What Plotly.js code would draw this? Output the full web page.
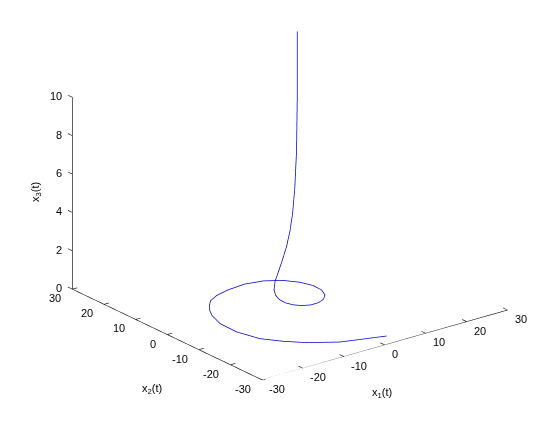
<!DOCTYPE html>
<html>
<head>
<meta charset="utf-8">
<script src="https://cdn.plot.ly/plotly-3.0.1.min.js"></script>
<style>
  html, body { margin: 0; padding: 0; background: #ffffff; }
  #chart { width: 560px; height: 421px; }
</style>
</head>
<body>
<div id="chart"></div>
<script>
// ---- data (trajectory x1(t), x2(t), x3(t)) ----
const X1 = [1.12, 1.39, 1.61, 1.65, 1.51, 1.24, 0.75, -0.16, -2.07, -3.04, -3.53, -3.62, -3.22,
            -2.29, -0.87, 0.95, 2.98, 4.98, 6.66, 7.74, 7.93, 7.06, 5.03, 1.91, -2.08, -6.53,
            -9.87, -12.48, -14.2, -15.81, -17.0, -18.4, -18.5, -17.1, -14.4, -11.2, -5.92, -0.78, 3.14];
const X2 = [-0.86, -0.50, 0.00, 0.64, 1.14, 1.60, 2.05, 2.43, 2.04, 1.11, 0.00, -1.32, -2.70,
            -3.97, -4.92, -5.38, -5.16, -4.18, -2.43, 0.00, 2.89, 5.92, 8.70, 10.80, 11.79, 11.31,
            10.36, 8.94, 7.10, 4.91, 2.68, -1.77, -7.16, -12.68, -16.5, -19.8, -23.5, -25.2, -26.5];
const X3 = [13.98, 10.51, 7.67, 5.60, 4.29, 3.38, 2.56, 1.76, 0.91, 0.62, 0.45, 0.33, 0.24,
            0.18, 0.13, 0.09, 0.07, 0.05, 0.04, 0.03, 0.02, 0.01, 0.01, 0.01, 0.00, 0.00,
            0, 0, 0, 0, 0, 0, 0, 0, 0, 0, 0, 0, 0];

// ---- axes ----
const X_TICKS = [-30, -20, -10, 0, 10, 20, 30];
const Y_TICKS = [-30, -20, -10, 0, 10, 20, 30];
const Z_TICKS = [0, 2, 4, 6, 8, 10];
const X_TITLE = 'x<sub>1</sub>(t)';
const Y_TITLE = 'x<sub>2</sub>(t)';
const Z_TITLE = 'x<sub>3</sub>(t)';

const xMin = X_TICKS[0], xMax = X_TICKS[X_TICKS.length - 1];
const yMin = Y_TICKS[0], yMax = Y_TICKS[Y_TICKS.length - 1];
const zMin = Z_TICKS[0], zMax = Z_TICKS[Z_TICKS.length - 1];

const frame = {
  type: 'scatter3d', mode: 'lines', hoverinfo: 'skip', showlegend: false,
  x: [xMin, xMin, xMin, xMax],
  y: [yMax, yMax, yMin, yMin],
  z: [zMax, zMin, zMin, zMin],
  line: { color: '#000000', width: 1.2 }
};

const TL_X = 1.4, TL_Y = 1.2, TL_Z = 1.4;
const tx = [], ty = [], tz = [];
X_TICKS.forEach(v => { tx.push(v, v, null); ty.push(yMin, yMin + TL_X, null); tz.push(zMin, zMin, null); });
Y_TICKS.forEach(v => { tx.push(xMin, xMin + TL_Y, null); ty.push(v, v, null); tz.push(zMin, zMin, null); });
Z_TICKS.forEach(v => { tx.push(xMin, xMin, null); ty.push(yMax, yMax + TL_Z, null); tz.push(v, v, null); });
const ticks = {
  type: 'scatter3d', mode: 'lines', hoverinfo: 'skip', showlegend: false,
  x: tx, y: ty, z: tz, connectgaps: false,
  line: { color: '#000000', width: 1.2 }
};

const curve = {
  type: 'scatter3d', mode: 'lines', hoverinfo: 'skip', showlegend: false,
  x: X1, y: X2, z: X3,
  line: { color: '#0000cc', width: 1.5 }
};

const tickFont = { family: 'Liberation Sans, Arial, sans-serif', size: 11, color: '#000000' };
const ann = [];
X_TICKS.forEach(v => ann.push({ x: v, y: yMin, z: zMin, text: String(v), showarrow: false,
  xanchor: 'left', yanchor: 'middle', xshift: 5, yshift: -9, font: tickFont }));
Y_TICKS.forEach(v => ann.push({ x: xMin, y: v, z: zMin, text: String(v), showarrow: false,
  xanchor: 'right', yanchor: 'middle', xshift: -9, yshift: -9, font: tickFont }));
Z_TICKS.forEach(v => ann.push({ x: xMin, y: yMax, z: v, text: String(v), showarrow: false,
  xanchor: 'right', yanchor: 'middle', xshift: -8, yshift: 1, font: tickFont }));

const hidden = {
  showgrid: false, zeroline: false, showline: false, showbackground: false,
  showticklabels: false, ticks: '', showspikes: false, title: { text: '' }, autorange: false
};

const zoomK = 1.473;
const dist = 2.5;
const dir = [-0.568, -0.736, 0.369];
const ctr = { x: -0.0757, y: -0.0451, z: -0.2307 };

const layout = {
  width: 560, height: 421,
  margin: { l: 0, r: 0, t: 0, b: 0 },
  paper_bgcolor: '#ffffff',
  showlegend: false,
  hovermode: false,
  scene: {
    domain: { x: [0, 1], y: [0, 1] },
    xaxis: Object.assign({}, hidden, { range: [xMin, xMax] }),
    yaxis: Object.assign({}, hidden, { range: [yMin, yMax + 2] }),
    zaxis: Object.assign({}, hidden, { range: [zMin, 14.5] }),
    aspectmode: 'manual',
    aspectratio: { x: 1 * zoomK, y: 1.035 * zoomK, z: 0.9653 * zoomK },
    camera: {
      projection: { type: 'orthographic' },
      up: { x: 0, y: 0, z: 1 },
      center: ctr,
      eye: { x: dir[0] * dist + ctr.x, y: dir[1] * dist + ctr.y, z: dir[2] * dist + ctr.z }
    },
    annotations: ann
  },
  annotations: [
    { xref: 'paper', yref: 'paper', x: 382 / 560, y: 1 - 393 / 421, text: X_TITLE, showarrow: false,
      xanchor: 'center', yanchor: 'middle', font: tickFont },
    { xref: 'paper', yref: 'paper', x: 152 / 560, y: 1 - 389 / 421, text: Y_TITLE, showarrow: false,
      xanchor: 'center', yanchor: 'middle', font: tickFont },
    { xref: 'paper', yref: 'paper', x: 36 / 560, y: 1 - 192 / 421, text: Z_TITLE, showarrow: false,
      textangle: -90, xanchor: 'center', yanchor: 'middle', font: tickFont }
  ]
};

Plotly.newPlot('chart', [frame, ticks, curve], layout, { displayModeBar: false });
</script>
</body>
</html>
